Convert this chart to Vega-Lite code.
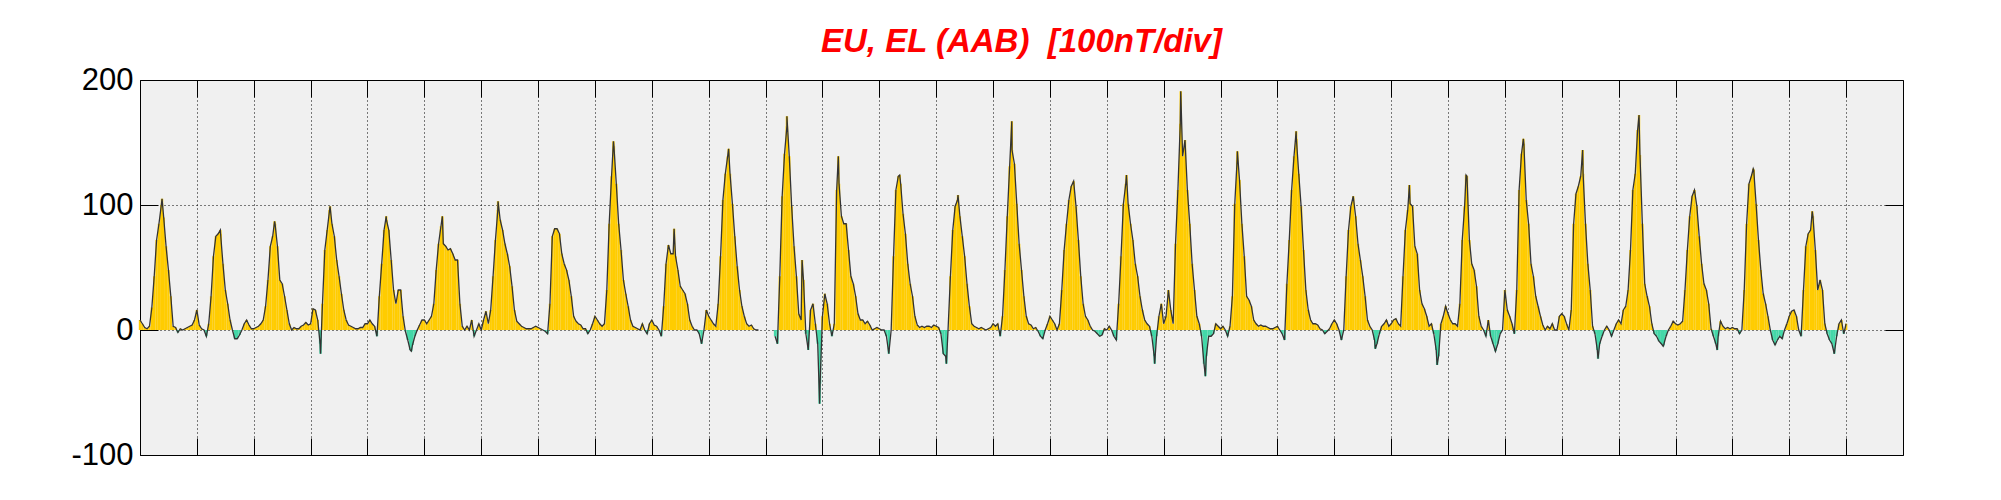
{
"$schema": "https://vega.github.io/schema/vega-lite/v6.json",
"width": 1763, "height": 375,
"autosize": "none",
"padding": {"left": 140, "top": 80, "right": 98, "bottom": 45},
"background": "white",
"config": {"view": {"fill": "#F0F0F0", "stroke": "black", "strokeWidth": 1}, "font": "Liberation Sans"},
"title": {"text": "EU, EL (AAB) \u00a0[100nT/div]", "color": "#FF0000", "fontSize": 33, "fontWeight": "bold", "fontStyle": "italic", "font": "Liberation Sans", "frame": "group", "anchor": "middle", "baseline": "alphabetic", "offset": 27, "dy": 48},
"data": {"values": [
{"t":0,"v":8},{"t":1,"v":5},{"t":2,"v":2},{"t":3,"v":1},{"t":4,"v":3},{"t":5,"v":18},{"t":6,"v":43},{"t":7,"v":72},{"t":8,"v":85},{"t":9,"v":100},{"t":10,"v":90},{"t":11,"v":67},{"t":12,"v":48},{"t":13,"v":27},{"t":14,"v":3},{"t":15,"v":2},{"t":16,"v":-2},{"t":17,"v":1},{"t":18,"v":0},{"t":19,"v":1},{"t":20,"v":2},{"t":21,"v":3},{"t":22,"v":4},{"t":23,"v":8},
{"t":24,"v":16},{"t":25,"v":4},{"t":26,"v":1},{"t":27,"v":0},{"t":28,"v":-5},{"t":29,"v":5},{"t":30,"v":27},{"t":31,"v":59},{"t":32,"v":75},{"t":33,"v":77},{"t":34,"v":77},{"t":35,"v":53},{"t":36,"v":32},{"t":37,"v":21},{"t":38,"v":8},{"t":39,"v":0},{"t":40,"v":-7},{"t":41,"v":-7},{"t":42,"v":-4},{"t":43,"v":0},{"t":44,"v":5},{"t":45,"v":8},{"t":46,"v":4},{"t":47,"v":1},
{"t":48,"v":1},{"t":49,"v":2},{"t":50,"v":3},{"t":51,"v":5},{"t":52,"v":8},{"t":53,"v":19},{"t":54,"v":40},{"t":55,"v":67},{"t":56,"v":75},{"t":57,"v":85},{"t":58,"v":67},{"t":59,"v":40},{"t":60,"v":37},{"t":61,"v":27},{"t":62,"v":16},{"t":63,"v":5},{"t":64,"v":0},{"t":65,"v":2},{"t":66,"v":1},{"t":67,"v":1},{"t":68,"v":3},{"t":69,"v":4},{"t":70,"v":6},{"t":71,"v":4},
{"t":72,"v":5},{"t":73,"v":17},{"t":74,"v":16},{"t":75,"v":8},{"t":76,"v":-11},{"t":77,"v":21},{"t":78,"v":64},{"t":79,"v":80},{"t":80,"v":96},{"t":81,"v":85},{"t":82,"v":75},{"t":83,"v":56},{"t":84,"v":43},{"t":85,"v":29},{"t":86,"v":16},{"t":87,"v":8},{"t":88,"v":4},{"t":89,"v":3},{"t":90,"v":2},{"t":91,"v":1},{"t":92,"v":1},{"t":93,"v":2},{"t":94,"v":2},{"t":95,"v":5},
{"t":96,"v":5},{"t":97,"v":8},{"t":98,"v":5},{"t":99,"v":3},{"t":100,"v":-5},{"t":101,"v":27},{"t":102,"v":53},{"t":103,"v":80},{"t":104,"v":88},{"t":105,"v":80},{"t":106,"v":56},{"t":107,"v":32},{"t":108,"v":21},{"t":109,"v":32},{"t":110,"v":32},{"t":111,"v":11},{"t":112,"v":-1},{"t":113,"v":-8},{"t":114,"v":-16},{"t":115,"v":-12},{"t":116,"v":-5},{"t":117,"v":0},{"t":118,"v":4},{"t":119,"v":8},
{"t":120,"v":8},{"t":121,"v":5},{"t":122,"v":8},{"t":123,"v":11},{"t":124,"v":21},{"t":125,"v":48},{"t":126,"v":69},{"t":127,"v":83},{"t":128,"v":69},{"t":129,"v":67},{"t":130,"v":64},{"t":131,"v":65},{"t":132,"v":61},{"t":133,"v":56},{"t":134,"v":56},{"t":135,"v":21},{"t":136,"v":3},{"t":137,"v":0},{"t":138,"v":3},{"t":139,"v":0},{"t":140,"v":8},{"t":141,"v":-5},{"t":142,"v":0},{"t":143,"v":5},
{"t":144,"v":0},{"t":145,"v":8},{"t":146,"v":15},{"t":147,"v":5},{"t":148,"v":16},{"t":149,"v":43},{"t":150,"v":72},{"t":151,"v":96},{"t":152,"v":88},{"t":153,"v":80},{"t":154,"v":69},{"t":155,"v":61},{"t":156,"v":51},{"t":157,"v":35},{"t":158,"v":16},{"t":159,"v":7},{"t":160,"v":5},{"t":161,"v":3},{"t":162,"v":2},{"t":163,"v":1},{"t":164,"v":1},{"t":165,"v":1},{"t":166,"v":2},{"t":167,"v":3},
{"t":168,"v":2},{"t":169,"v":1},{"t":170,"v":0},{"t":171,"v":-1},{"t":172,"v":-3},{"t":173,"v":21},{"t":174,"v":75},{"t":175,"v":81},{"t":176,"v":81},{"t":177,"v":77},{"t":178,"v":61},{"t":179,"v":53},{"t":180,"v":48},{"t":181,"v":40},{"t":182,"v":27},{"t":183,"v":11},{"t":184,"v":7},{"t":185,"v":5},{"t":186,"v":4},{"t":187,"v":1},{"t":188,"v":1},{"t":189,"v":-3},{"t":190,"v":0},{"t":191,"v":5},
{"t":192,"v":11},{"t":193,"v":8},{"t":194,"v":5},{"t":195,"v":3},{"t":196,"v":5},{"t":197,"v":32},{"t":198,"v":85},{"t":199,"v":123},{"t":200,"v":147},{"t":201,"v":117},{"t":202,"v":85},{"t":203,"v":64},{"t":204,"v":40},{"t":205,"v":29},{"t":206,"v":19},{"t":207,"v":8},{"t":208,"v":3},{"t":209,"v":2},{"t":210,"v":1},{"t":211,"v":0},{"t":212,"v":5},{"t":213,"v":0},{"t":214,"v":-3},{"t":215,"v":5},
{"t":216,"v":8},{"t":217,"v":4},{"t":218,"v":3},{"t":219,"v":0},{"t":220,"v":-5},{"t":221,"v":19},{"t":222,"v":53},{"t":223,"v":68},{"t":224,"v":61},{"t":225,"v":61},{"t":226,"v":59},{"t":227,"v":48},{"t":228,"v":35},{"t":229,"v":32},{"t":230,"v":29},{"t":231,"v":21},{"t":232,"v":8},{"t":233,"v":3},{"t":234,"v":0},{"t":235,"v":0},{"t":236,"v":-3},{"t":237,"v":-11},{"t":238,"v":0},{"t":239,"v":16},
{"t":240,"v":11},{"t":241,"v":8},{"t":242,"v":5},{"t":243,"v":3},{"t":244,"v":21},{"t":245,"v":59},{"t":246,"v":104},{"t":247,"v":125},{"t":248,"v":139},{"t":249,"v":125},{"t":250,"v":101},{"t":251,"v":75},{"t":252,"v":51},{"t":253,"v":32},{"t":254,"v":19},{"t":255,"v":11},{"t":256,"v":5},{"t":257,"v":3},{"t":258,"v":4},{"t":259,"v":1},{"t":260,"v":0},{"t":261,"v":0},{"t":262,"v":null},{"t":263,"v":null},
{"t":264,"v":null},{"t":265,"v":null},{"t":266,"v":null},{"t":267,"v":null},{"t":268,"v":-5},{"t":269,"v":-11},{"t":270,"v":43},{"t":271,"v":107},{"t":272,"v":141},{"t":273,"v":163},{"t":274,"v":139},{"t":275,"v":99},{"t":276,"v":67},{"t":277,"v":43},{"t":278,"v":13},{"t":279,"v":8},{"t":280,"v":40},{"t":281,"v":-3},{"t":282,"v":-16},{"t":283,"v":16},{"t":284,"v":21},{"t":285,"v":5},{"t":286,"v":-11},{"t":287,"v":-43},
{"t":288,"v":11},{"t":289,"v":29},{"t":290,"v":21},{"t":291,"v":5},{"t":292,"v":-5},{"t":293,"v":5},{"t":294,"v":112},{"t":295,"v":117},{"t":296,"v":91},{"t":297,"v":85},{"t":298,"v":85},{"t":299,"v":64},{"t":300,"v":43},{"t":301,"v":37},{"t":302,"v":27},{"t":303,"v":13},{"t":304,"v":8},{"t":305,"v":8},{"t":306,"v":5},{"t":307,"v":7},{"t":308,"v":4},{"t":309,"v":0},{"t":310,"v":1},{"t":311,"v":2},
{"t":312,"v":1},{"t":313,"v":0},{"t":314,"v":0},{"t":315,"v":-5},{"t":316,"v":-19},{"t":317,"v":0},{"t":318,"v":59},{"t":319,"v":112},{"t":320,"v":123},{"t":321,"v":117},{"t":322,"v":93},{"t":323,"v":77},{"t":324,"v":53},{"t":325,"v":37},{"t":326,"v":27},{"t":327,"v":11},{"t":328,"v":4},{"t":329,"v":2},{"t":330,"v":3},{"t":331,"v":2},{"t":332,"v":3},{"t":333,"v":3},{"t":334,"v":2},{"t":335,"v":4},
{"t":336,"v":3},{"t":337,"v":2},{"t":338,"v":-3},{"t":339,"v":-19},{"t":340,"v":-21},{"t":341,"v":0},{"t":342,"v":43},{"t":343,"v":80},{"t":344,"v":99},{"t":345,"v":104},{"t":346,"v":91},{"t":347,"v":75},{"t":348,"v":59},{"t":349,"v":37},{"t":350,"v":19},{"t":351,"v":5},{"t":352,"v":3},{"t":353,"v":2},{"t":354,"v":1},{"t":355,"v":2},{"t":356,"v":1},{"t":357,"v":0},{"t":358,"v":1},{"t":359,"v":2},
{"t":360,"v":5},{"t":361,"v":3},{"t":362,"v":5},{"t":363,"v":-5},{"t":364,"v":11},{"t":365,"v":48},{"t":366,"v":91},{"t":367,"v":131},{"t":368,"v":144},{"t":369,"v":133},{"t":370,"v":101},{"t":371,"v":69},{"t":372,"v":48},{"t":373,"v":27},{"t":374,"v":11},{"t":375,"v":5},{"t":376,"v":4},{"t":377,"v":1},{"t":378,"v":2},{"t":379,"v":-1},{"t":380,"v":-5},{"t":381,"v":-7},{"t":382,"v":0},{"t":383,"v":5},
{"t":384,"v":11},{"t":385,"v":8},{"t":386,"v":5},{"t":387,"v":0},{"t":388,"v":5},{"t":389,"v":32},{"t":390,"v":64},{"t":391,"v":85},{"t":392,"v":104},{"t":393,"v":115},{"t":394,"v":119},{"t":395,"v":99},{"t":396,"v":72},{"t":397,"v":43},{"t":398,"v":21},{"t":399,"v":11},{"t":400,"v":8},{"t":401,"v":3},{"t":402,"v":0},{"t":403,"v":-1},{"t":404,"v":-3},{"t":405,"v":-5},{"t":406,"v":-4},{"t":407,"v":1},
{"t":408,"v":0},{"t":409,"v":3},{"t":410,"v":0},{"t":411,"v":-5},{"t":412,"v":-8},{"t":413,"v":21},{"t":414,"v":59},{"t":415,"v":101},{"t":416,"v":117},{"t":417,"v":101},{"t":418,"v":85},{"t":419,"v":72},{"t":420,"v":53},{"t":421,"v":43},{"t":422,"v":27},{"t":423,"v":16},{"t":424,"v":8},{"t":425,"v":5},{"t":426,"v":3},{"t":427,"v":-5},{"t":428,"v":-21},{"t":429,"v":-5},{"t":430,"v":11},{"t":431,"v":21},
{"t":432,"v":5},{"t":433,"v":11},{"t":434,"v":32},{"t":435,"v":16},{"t":436,"v":5},{"t":437,"v":69},{"t":438,"v":112},{"t":439,"v":165},{"t":440,"v":139},{"t":441,"v":152},{"t":442,"v":112},{"t":443,"v":85},{"t":444,"v":53},{"t":445,"v":32},{"t":446,"v":11},{"t":447,"v":5},{"t":448,"v":-5},{"t":449,"v":-27},{"t":450,"v":-21},{"t":451,"v":-5},{"t":452,"v":-5},{"t":453,"v":-3},{"t":454,"v":5},{"t":455,"v":3},
{"t":456,"v":1},{"t":457,"v":3},{"t":458,"v":0},{"t":459,"v":-5},{"t":460,"v":3},{"t":461,"v":27},{"t":462,"v":101},{"t":463,"v":136},{"t":464,"v":120},{"t":465,"v":85},{"t":466,"v":59},{"t":467,"v":27},{"t":468,"v":24},{"t":469,"v":19},{"t":470,"v":8},{"t":471,"v":5},{"t":472,"v":3},{"t":473,"v":4},{"t":474,"v":3},{"t":475,"v":3},{"t":476,"v":2},{"t":477,"v":1},{"t":478,"v":1},{"t":479,"v":2},
{"t":480,"v":3},{"t":481,"v":0},{"t":482,"v":-3},{"t":483,"v":-8},{"t":484,"v":37},{"t":485,"v":72},{"t":486,"v":112},{"t":487,"v":139},{"t":488,"v":153},{"t":489,"v":125},{"t":490,"v":99},{"t":491,"v":64},{"t":492,"v":32},{"t":493,"v":16},{"t":494,"v":8},{"t":495,"v":5},{"t":496,"v":5},{"t":497,"v":4},{"t":498,"v":1},{"t":499,"v":0},{"t":500,"v":-3},{"t":501,"v":-1},{"t":502,"v":1},{"t":503,"v":5},
{"t":504,"v":8},{"t":505,"v":5},{"t":506,"v":0},{"t":507,"v":-8},{"t":508,"v":0},{"t":509,"v":43},{"t":510,"v":80},{"t":511,"v":99},{"t":512,"v":107},{"t":513,"v":91},{"t":514,"v":69},{"t":515,"v":56},{"t":516,"v":43},{"t":517,"v":27},{"t":518,"v":8},{"t":519,"v":3},{"t":520,"v":0},{"t":521,"v":-8},{"t":522,"v":-11},{"t":523,"v":-3},{"t":524,"v":3},{"t":525,"v":5},{"t":526,"v":8},{"t":527,"v":3},
{"t":528,"v":5},{"t":529,"v":8},{"t":530,"v":9},{"t":531,"v":5},{"t":532,"v":3},{"t":533,"v":43},{"t":534,"v":80},{"t":535,"v":96},{"t":536,"v":101},{"t":537,"v":99},{"t":538,"v":67},{"t":539,"v":61},{"t":540,"v":32},{"t":541,"v":21},{"t":542,"v":17},{"t":543,"v":11},{"t":544,"v":3},{"t":545,"v":5},{"t":546,"v":-3},{"t":547,"v":-16},{"t":548,"v":-21},{"t":549,"v":5},{"t":550,"v":11},{"t":551,"v":19},
{"t":552,"v":13},{"t":553,"v":8},{"t":554,"v":5},{"t":555,"v":5},{"t":556,"v":3},{"t":557,"v":21},{"t":558,"v":72},{"t":559,"v":99},{"t":560,"v":123},{"t":561,"v":72},{"t":562,"v":53},{"t":563,"v":48},{"t":564,"v":35},{"t":565,"v":11},{"t":566,"v":3},{"t":567,"v":0},{"t":568,"v":-5},{"t":569,"v":8},{"t":570,"v":-5},{"t":571,"v":-11},{"t":572,"v":-17},{"t":573,"v":-11},{"t":574,"v":-3},{"t":575,"v":0},
{"t":576,"v":32},{"t":577,"v":16},{"t":578,"v":11},{"t":579,"v":5},{"t":580,"v":-3},{"t":581,"v":32},{"t":582,"v":112},{"t":583,"v":141},{"t":584,"v":149},{"t":585,"v":104},{"t":586,"v":85},{"t":587,"v":53},{"t":588,"v":43},{"t":589,"v":27},{"t":590,"v":19},{"t":591,"v":11},{"t":592,"v":4},{"t":593,"v":0},{"t":594,"v":3},{"t":595,"v":1},{"t":596,"v":5},{"t":597,"v":0},{"t":598,"v":0},{"t":599,"v":11},
{"t":600,"v":13},{"t":601,"v":11},{"t":602,"v":5},{"t":603,"v":0},{"t":604,"v":16},{"t":605,"v":85},{"t":606,"v":109},{"t":607,"v":115},{"t":608,"v":123},{"t":609,"v":125},{"t":610,"v":85},{"t":611,"v":53},{"t":612,"v":32},{"t":613,"v":3},{"t":614,"v":-3},{"t":615,"v":-16},{"t":616,"v":-11},{"t":617,"v":-5},{"t":618,"v":0},{"t":619,"v":3},{"t":620,"v":0},{"t":621,"v":-5},{"t":622,"v":0},{"t":623,"v":5},
{"t":624,"v":8},{"t":625,"v":5},{"t":626,"v":16},{"t":627,"v":19},{"t":628,"v":32},{"t":629,"v":64},{"t":630,"v":112},{"t":631,"v":125},{"t":632,"v":160},{"t":633,"v":140},{"t":634,"v":85},{"t":635,"v":37},{"t":636,"v":27},{"t":637,"v":19},{"t":638,"v":5},{"t":639,"v":-3},{"t":640,"v":-5},{"t":641,"v":-9},{"t":642,"v":-11},{"t":643,"v":-12},{"t":644,"v":-5},{"t":645,"v":0},{"t":646,"v":3},{"t":647,"v":7},
{"t":648,"v":5},{"t":649,"v":4},{"t":650,"v":5},{"t":651,"v":7},{"t":652,"v":32},{"t":653,"v":64},{"t":654,"v":91},{"t":655,"v":107},{"t":656,"v":112},{"t":657,"v":99},{"t":658,"v":75},{"t":659,"v":53},{"t":660,"v":37},{"t":661,"v":32},{"t":662,"v":21},{"t":663,"v":1},{"t":664,"v":-5},{"t":665,"v":-11},{"t":666,"v":-5},{"t":667,"v":7},{"t":668,"v":3},{"t":669,"v":1},{"t":670,"v":2},{"t":671,"v":1},
{"t":672,"v":2},{"t":673,"v":1},{"t":674,"v":1},{"t":675,"v":-3},{"t":676,"v":0},{"t":677,"v":32},{"t":678,"v":85},{"t":679,"v":117},{"t":680,"v":123},{"t":681,"v":128},{"t":682,"v":101},{"t":683,"v":72},{"t":684,"v":48},{"t":685,"v":29},{"t":686,"v":21},{"t":687,"v":11},{"t":688,"v":0},{"t":689,"v":-8},{"t":690,"v":-12},{"t":691,"v":-8},{"t":692,"v":-5},{"t":693,"v":-7},{"t":694,"v":0},{"t":695,"v":5},
{"t":696,"v":11},{"t":697,"v":15},{"t":698,"v":16},{"t":699,"v":11},{"t":700,"v":0},{"t":701,"v":-5},{"t":702,"v":32},{"t":703,"v":67},{"t":704,"v":77},{"t":705,"v":80},{"t":706,"v":91},{"t":707,"v":64},{"t":708,"v":32},{"t":709,"v":40},{"t":710,"v":32},{"t":711,"v":5},{"t":712,"v":-3},{"t":713,"v":-8},{"t":714,"v":-11},{"t":715,"v":-19},{"t":716,"v":-5},{"t":717,"v":5},{"t":718,"v":8},{"t":719,"v":-3},{"t":720,"v":5},
{"t":9.3,"v":105},{"t":33.9,"v":80},{"t":56.8,"v":87},{"t":76.2,"v":-19},{"t":80.2,"v":99},{"t":103.9,"v":91},{"t":114.5,"v":-17},{"t":127.6,"v":91},{"t":151.1,"v":103},{"t":199.8,"v":151},{"t":225.4,"v":81},{"t":248.4,"v":145},{"t":273,"v":171},{"t":279.4,"v":56},{"t":286.8,"v":-59},{"t":294.7,"v":139},{"t":320.6,"v":124},{"t":340.3,"v":-27},{"t":345.2,"v":108},{"t":367.9,"v":167},{"t":416.3,"v":124},{"t":428.2,"v":-27},{"t":439.2,"v":191},{"t":449.6,"v":-37},{"t":463.1,"v":143},{"t":487.9,"v":159},{"t":521.3,"v":-15},{"t":535.7,"v":116},{"t":547.4,"v":-28},{"t":559.6,"v":124},{"t":583.8,"v":153},{"t":608.8,"v":144},{"t":615.3,"v":-23},{"t":632.6,"v":172},{"t":642.8,"v":-13},{"t":665.6,"v":-16},{"t":680.8,"v":129},{"t":705.7,"v":95}
]},
"layer": [
{"mark": {"type": "rule", "strokeWidth": 2.4},
 "encoding": {
  "x": {"field": "t", "type": "quantitative", "scale": {"domain": [0, 744], "nice": false, "zero": false},
        "axis": {"orient": "bottom", "values": [24,48,72,96,120,144,168,192,216,240,264,288,312,336,360,384,408,432,456,480,504,528,552,576,600,624,648,672,696,720], "labels": false, "ticks": true, "tickSize": -17, "tickColor": "black", "tickWidth": 1, "domain": false, "grid": true, "gridColor": "black", "gridDash": [1,3], "gridOpacity": 1, "gridWidth": 1, "title": null}},
  "y": {"field": "v", "type": "quantitative", "scale": {"domain": [-100, 200], "nice": false},
        "axis": {"orient": "left", "values": [-100, 0, 100, 200], "labelExpr": "'' + datum.value", "labelFontSize": 31, "labelColor": "black", "labelFont": "Liberation Sans", "labelPadding": 25, "ticks": true, "tickSize": -18, "tickColor": "black", "tickWidth": 1, "domain": false, "grid": true, "gridColor": "black", "gridDash": [1,3], "gridOpacity": 1, "gridWidth": 1, "title": null}},
  "y2": {"datum": 0},
  "color": {"condition": {"test": "datum.v < 0", "value": "#44D7A8"}, "value": "#FFCC00"}
 }},
{"mark": {"type": "line", "color": "#333333", "strokeWidth": 1.3, "invalid": "break-paths-filter-domains"},
 "encoding": {
  "x": {"field": "t", "type": "quantitative", "scale": {"domain": [0, 744], "nice": false, "zero": false},
        "axis": {"orient": "top", "values": [24,48,72,96,120,144,168,192,216,240,264,288,312,336,360,384,408,432,456,480,504,528,552,576,600,624,648,672,696,720], "labels": false, "ticks": true, "tickSize": -17, "tickColor": "black", "tickWidth": 1, "domain": false, "grid": false, "title": null}},
  "y": {"field": "v", "type": "quantitative", "scale": {"domain": [-100, 200], "nice": false},
        "axis": {"orient": "right", "values": [-100, 0, 100, 200], "labels": false, "ticks": true, "tickSize": -18, "tickColor": "black", "tickWidth": 1, "domain": false, "grid": false, "title": null}}
 }}
],
"resolve": {"axis": {"x": "independent", "y": "independent"}}
}
